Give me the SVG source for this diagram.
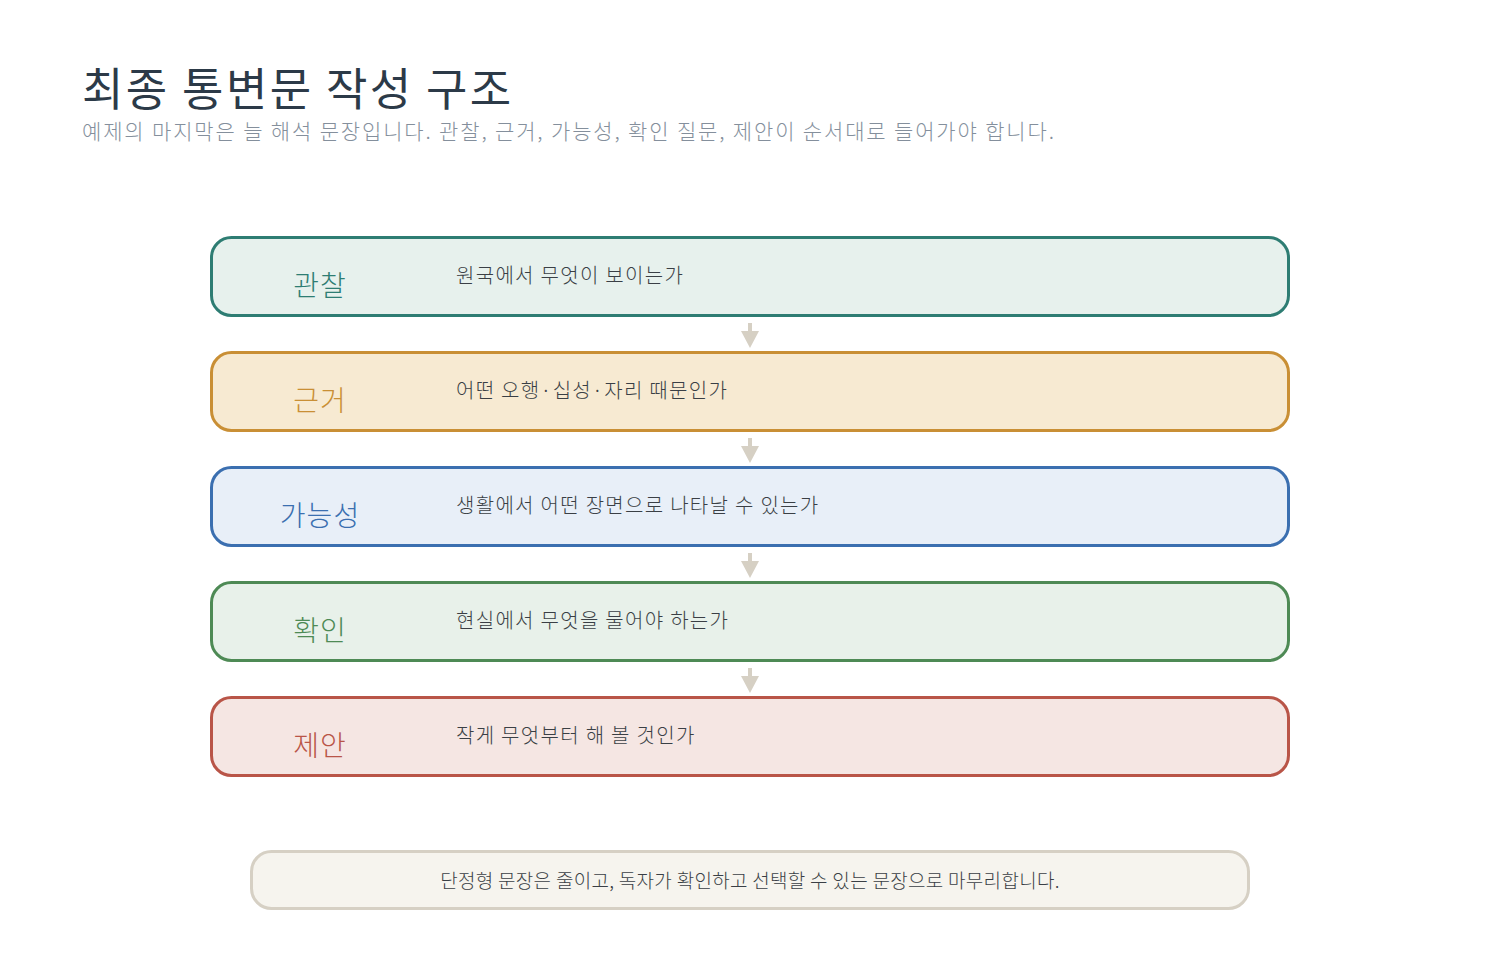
<svg xmlns="http://www.w3.org/2000/svg" width="1500" height="980" viewBox="0 0 1500 980">
<defs>
<style>
.t{font-family:"Noto Sans CJK KR","Noto Sans",sans-serif;font-weight:300}
.title{font-size:45px;fill:#2c3a48;letter-spacing:2.4px;font-weight:400}
.sub{font-size:21px;fill:#848f9c;letter-spacing:1.85px}
.lab{font-size:28px;text-anchor:middle;letter-spacing:1px}
.desc{font-size:20px;fill:#3a3f45;letter-spacing:1.3px}
.box{stroke-width:3}
.arr{fill:#d6d0c4}
</style>
</defs>
<rect width="1500" height="980" fill="#ffffff"/>
<text class="t title" x="82" y="106">최종 통변문 작성 구조</text>
<text class="t sub" x="82" y="139">예제의 마지막은 늘 해석 문장입니다. 관찰, 근거, 가능성, 확인 질문, 제안이 순서대로 들어가야 합니다.</text>
<g id="connectors">
<path class="arr" d="M748 323h4v8h7l-9 17l-9-17h7z"/>
<path class="arr" d="M748 438h4v8h7l-9 17l-9-17h7z"/>
<path class="arr" d="M748 553h4v8h7l-9 17l-9-17h7z"/>
<path class="arr" d="M748 668h4v8h7l-9 17l-9-17h7z"/>
</g>
<g id="node1">
<rect class="box" x="211.5" y="237.5" width="1077" height="78" rx="20" fill="#e7f1ed" stroke="#2e7d73"/>
<text class="t lab" x="320" y="296" fill="#2e7d73">관찰</text>
<text class="t desc" x="456" y="283">원국에서 무엇이 보이는가</text>
</g>
<g id="node2">
<rect class="box" x="211.5" y="352.5" width="1077" height="78" rx="20" fill="#f7ead2" stroke="#c98f35"/>
<text class="t lab" x="320" y="411" fill="#c98f35">근거</text>
<text class="t desc" x="456" y="398">어떤 오행·십성·자리 때문인가</text>
</g>
<g id="node3">
<rect class="box" x="211.5" y="467.5" width="1077" height="78" rx="20" fill="#e8eff8" stroke="#3b6fb0"/>
<text class="t lab" x="320" y="526" fill="#3b6fb0">가능성</text>
<text class="t desc" x="456" y="513">생활에서 어떤 장면으로 나타날 수 있는가</text>
</g>
<g id="node4">
<rect class="box" x="211.5" y="582.5" width="1077" height="78" rx="20" fill="#e8f1ea" stroke="#4e8a55"/>
<text class="t lab" x="320" y="641" fill="#4e8a55">확인</text>
<text class="t desc" x="456" y="628">현실에서 무엇을 물어야 하는가</text>
</g>
<g id="node5">
<rect class="box" x="211.5" y="697.5" width="1077" height="78" rx="20" fill="#f5e6e3" stroke="#b95548"/>
<text class="t lab" x="320" y="756" fill="#b95548">제안</text>
<text class="t desc" x="456" y="743">작게 무엇부터 해 볼 것인가</text>
</g>
<g id="note">
<rect x="251.5" y="851.5" width="997" height="57" rx="20" fill="#f6f4ee" stroke="#d6d0c4" stroke-width="3"/>
<text class="t" x="750" y="888" font-size="19" fill="#3a3f45" text-anchor="middle" letter-spacing="0.3">단정형 문장은 줄이고, 독자가 확인하고 선택할 수 있는 문장으로 마무리합니다.</text>
</g>
</svg>
